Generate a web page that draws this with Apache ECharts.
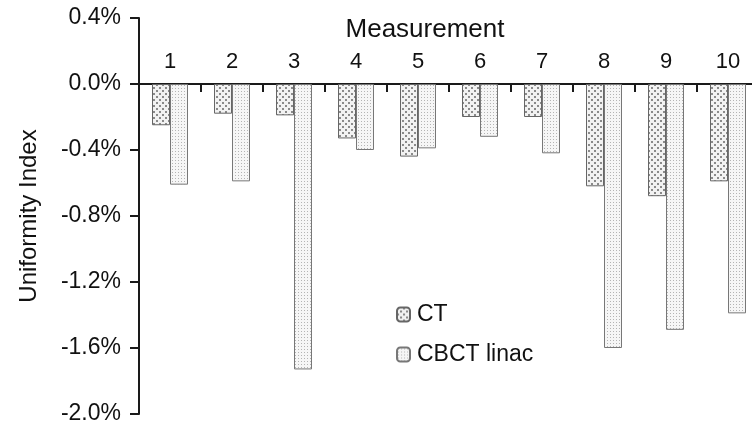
<!DOCTYPE html>
<html>
<head>
<meta charset="utf-8">
<script src="https://cdn.jsdelivr.net/npm/echarts@6/dist/echarts.min.js"></script>
<style>
  html, body { margin: 0; padding: 0; background: #fff; }
  #chart { width: 752px; height: 436px; }
</style>
</head>
<body>
<div id="chart"></div>
<script>
// Uniformity index (%) per measurement, CT vs CBCT on the linac
const measurements = ['1', '2', '3', '4', '5', '6', '7', '8', '9', '10'];
const ctValues = [-0.25, -0.18, -0.19, -0.33, -0.44, -0.20, -0.20, -0.62, -0.68, -0.59];
const cbctValues = [-0.61, -0.59, -1.73, -0.40, -0.39, -0.32, -0.42, -1.60, -1.49, -1.39];
const seriesNames = ['CT', 'CBCT linac'];
const yTicks = { min: -2.0, max: 0.4, step: 0.4 };

// Dotted hatch fills for the two series
function makePattern(size, bg, dot, dots) {
  const c = document.createElement('canvas');
  c.width = size; c.height = size;
  const g = c.getContext('2d');
  g.fillStyle = bg;
  g.fillRect(0, 0, size, size);
  g.fillStyle = dot;
  dots.forEach(([x, y, w, h]) => g.fillRect(x, y, w, h));
  return c;
}
const ctFill = makePattern(6, '#f2f2f2', '#8a8a8a', [[0, 0, 2, 2], [3, 3, 2, 2]]);
const cbctFill = makePattern(3, '#f6f6f6', '#b4b4b4', [[1, 1, 1, 1]]);

const fontFamily = '"Liberation Sans", Arial, sans-serif';
const gridTop = 18, gridHeight = 396;
// the category axis sits on the 0% line, which lies this far below the grid top
const zeroOffset = gridHeight * yTicks.max / (yTicks.max - yTicks.min);

const chart = echarts.init(document.getElementById('chart'), null, { renderer: 'canvas' });

chart.setOption({
  animation: false,
  backgroundColor: '#ffffff',
  grid: {
    left: 139, top: gridTop, width: 620, height: gridHeight,
    containLabel: false,
    outerBoundsMode: 'none'
  },
  graphic: [{
    type: 'text',
    x: 425, y: 30,
    style: {
      text: 'Measurement',
      font: '26px ' + fontFamily,
      fill: '#111',
      textAlign: 'center',
      textVerticalAlign: 'middle'
    }
  }],
  legend: {
    orient: 'vertical',
    left: 391, top: 298,
    itemWidth: 13, itemHeight: 14,
    itemGap: 17,
    selectedMode: false,
    textStyle: { fontFamily, fontSize: 23, color: '#111', padding: [0, 0, 0, 2] },
    data: seriesNames
  },
  xAxis: {
    type: 'category',
    position: 'top',
    offset: -zeroOffset,
    data: measurements,
    axisLine: { onZero: false, lineStyle: { color: '#1a1a1a', width: 2 } },
    axisTick: { show: true, inside: true, length: 8, lineStyle: { color: '#1a1a1a', width: 2 } },
    axisLabel: { fontFamily, fontSize: 22, color: '#111', margin: 11 },
    splitLine: { show: false }
  },
  yAxis: {
    type: 'value',
    min: yTicks.min, max: yTicks.max, interval: yTicks.step,
    name: 'Uniformity Index',
    nameLocation: 'middle',
    nameRotate: 90,
    nameGap: 98,
    nameTextStyle: { fontFamily, fontSize: 24, color: '#111' },
    axisLine: { show: true, onZero: false, lineStyle: { color: '#1a1a1a', width: 2 } },
    axisTick: { show: true, length: 9, lineStyle: { color: '#1a1a1a', width: 2 } },
    axisLabel: {
      fontFamily, fontSize: 23, color: '#111', margin: 18,
      formatter: v => v.toFixed(1) + '%'
    },
    splitLine: { show: false }
  },
  series: [
    {
      name: seriesNames[0],
      type: 'bar',
      data: ctValues,
      barWidth: 18,
      barGap: '0%',
      itemStyle: { color: { image: ctFill, repeat: 'repeat' }, borderColor: '#666', borderWidth: 1 }
    },
    {
      name: seriesNames[1],
      type: 'bar',
      data: cbctValues,
      barWidth: 18,
      barGap: '0%',
      itemStyle: { color: { image: cbctFill, repeat: 'repeat' }, borderColor: '#777', borderWidth: 1 }
    }
  ]
});
</script>
</body>
</html>
